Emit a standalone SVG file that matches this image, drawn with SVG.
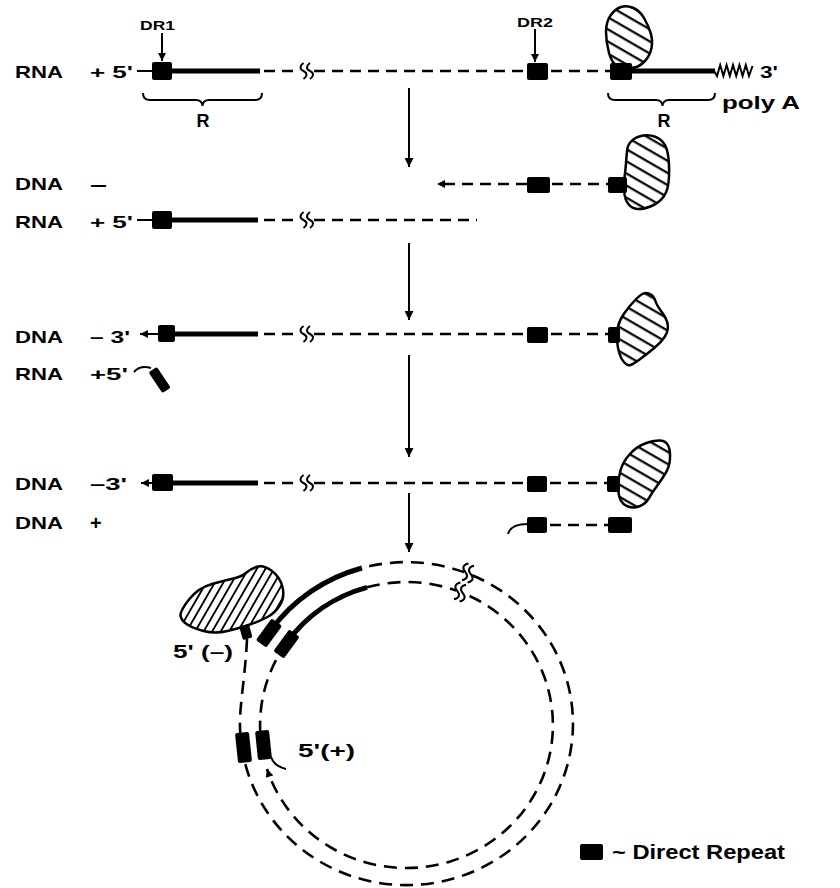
<svg xmlns="http://www.w3.org/2000/svg" xmlns:xlink="http://www.w3.org/1999/xlink" width="840" height="888" viewBox="0 0 840 888">
<style>
.thick{stroke:#000;stroke-width:5;fill:none}
.dash{stroke:#000;stroke-width:2.5;stroke-dasharray:11 7;fill:none}
.cdash{stroke:#000;stroke-width:2.6;stroke-dasharray:13 8;fill:none}
.thin{stroke:#000;stroke-width:2;fill:none}
.box{fill:#000}
.blob{stroke:#000;stroke-width:2.5}
.brk{stroke:#000;stroke-width:2;fill:none}
.lbl{font-family:"Liberation Sans",Arial,sans-serif;font-weight:bold;font-size:17px;fill:#000}
</style>
<defs>
<pattern id="h1" patternUnits="userSpaceOnUse" width="10" height="10.5" patternTransform="rotate(30)"><rect width="10" height="10.5" fill="#fff"/><line x1="0" y1="5" x2="10" y2="5" stroke="#000" stroke-width="2.2"/></pattern>
<pattern id="h2" patternUnits="userSpaceOnUse" width="10" height="7.4" patternTransform="rotate(-60)"><rect width="10" height="7.4" fill="#fff"/><line x1="0" y1="3.7" x2="10" y2="3.7" stroke="#000" stroke-width="1.8"/></pattern>
<marker id="ah" viewBox="0 0 10 10" refX="10" refY="5" markerWidth="10" markerHeight="9" orient="auto" markerUnits="userSpaceOnUse"><path d="M0,0 L10,5 L0,10 z" fill="#000"/></marker>
<marker id="ahs" viewBox="0 0 10 10" refX="10" refY="5" markerWidth="9" markerHeight="8" orient="auto" markerUnits="userSpaceOnUse"><path d="M0,0 L10,5 L0,10 z" fill="#000"/></marker>
<path id="sq" d="M0,-8 C-4,-5 -4,-2 0,0 C4,2 4,5 0,8"/>
<path id="sqc" d="M0,-9 C-4.5,-6 -4.5,-2.5 0,0 C4.5,2.5 4.5,6 0,9"/>
</defs>

<g id="connectors">
<line class="thin" x1="409" y1="88" x2="409" y2="167" marker-end="url(#ah)"/>
<line class="thin" x1="409" y1="243" x2="409" y2="320" marker-end="url(#ah)"/>
<line class="thin" x1="409" y1="355" x2="409" y2="457" marker-end="url(#ah)"/>
<line class="thin" x1="409" y1="493" x2="409" y2="552" marker-end="url(#ah)"/>
</g>

<g id="stage1">
<text class="lbl" x="15" y="78" textLength="48" lengthAdjust="spacingAndGlyphs">RNA</text>
<text class="lbl" x="90" y="78" textLength="43" lengthAdjust="spacingAndGlyphs">+ 5'</text>
<text class="lbl" x="140" y="30" style="font-size:13px" textLength="35" lengthAdjust="spacingAndGlyphs">DR1</text>
<text class="lbl" x="517" y="27" style="font-size:13px" textLength="36" lengthAdjust="spacingAndGlyphs">DR2</text>
<line class="thin" x1="162" y1="33" x2="162" y2="61" marker-end="url(#ahs)"/>
<line class="thin" x1="535" y1="29" x2="535" y2="62" marker-end="url(#ahs)"/>
<line class="thin" x1="137" y1="71" x2="153" y2="71"/>
<rect class="box" x="152" y="62" width="20" height="18" rx="2"/>
<line class="thick" x1="171" y1="71" x2="260" y2="71"/>
<line class="dash" x1="264" y1="71" x2="300" y2="71"/>
<use href="#sq" class="brk" x="303.5" y="71"/>
<use href="#sq" class="brk" x="310" y="71"/>
<line class="dash" x1="314" y1="71" x2="527" y2="71"/>
<rect class="box" x="527" y="63" width="21" height="17" rx="2"/>
<line class="dash" x1="551" y1="71" x2="610" y2="71"/>
<path class="blob" fill="url(#h1)" d="M609,53 Q606,42 606,32 Q606,22 610.5,15.5 Q615,9 621,7 Q627,5 633.5,8 Q640,11 644,18 Q648,25 650.5,32.5 Q653,40 651.5,48 Q650,56 644,62 Q638,68 631,68 Q624,68 618,66 Q612,64 609,53 Z"/>
<rect class="box" x="610" y="63" width="22" height="17" rx="2"/>
<line class="thick" x1="631" y1="71" x2="715" y2="71"/>
<polyline class="thin" points="714,71 717,76 720.2,65 723.4,76 726.6,65 729.8,76 733,65 736.2,76 739.4,65 742.6,76 745.8,65 749,76 752.5,66"/>
<text class="lbl" x="760" y="78" textLength="18" lengthAdjust="spacingAndGlyphs">3'</text>
<path class="thin" d="M143,93 Q143,100 150,100 L196,100 Q202,100 202.5,106 Q203,100 209,100 L255,100 Q262,100 262,93"/>
<text class="lbl" x="203" y="127" text-anchor="middle" style="font-size:18px">R</text>
<path class="thin" d="M608,93 Q608,100 615,100 L656,100 Q662,100 662.5,106 Q663,100 669,100 L708,100 Q715,100 715,93"/>
<text class="lbl" x="664" y="127" text-anchor="middle" style="font-size:18px">R</text>
<text class="lbl" x="722" y="109" style="font-size:18px" textLength="78" lengthAdjust="spacingAndGlyphs">poly A</text>
</g>

<g id="stage2">
<text class="lbl" x="15" y="190" textLength="48" lengthAdjust="spacingAndGlyphs">DNA</text>
<text class="lbl" x="90" y="191" style="font-size:20px" textLength="17" lengthAdjust="spacingAndGlyphs">–</text>
<line class="dash" x1="527" y1="184" x2="437" y2="184" marker-end="url(#ahs)"/>
<rect class="box" x="527" y="177" width="23" height="16" rx="2"/>
<line class="dash" x1="552" y1="184" x2="608" y2="184"/>
<path class="blob" fill="url(#h1)" d="M634,139 Q640,135 647.5,135.25 Q655,135.5 660.5,139.75 Q666,144 667.75,153.5 Q669.5,163 669,176.5 Q668.5,190 663.75,196.5 Q659,203 651,206.25 Q643,209.5 637.5,209 Q632,208.5 628.5,204.25 Q625,200 624.25,192.5 Q623.5,185 624.5,177.5 Q625.5,170 626,163 Q626.5,156 627.25,149.5 Q628,143 634,139 Z"/>
<rect class="box" x="608" y="177" width="19" height="16" rx="2"/>
<text class="lbl" x="15" y="228" textLength="48" lengthAdjust="spacingAndGlyphs">RNA</text>
<text class="lbl" x="90" y="228" textLength="43" lengthAdjust="spacingAndGlyphs">+ 5'</text>
<line class="thin" x1="137" y1="220" x2="153" y2="220"/>
<rect class="box" x="152" y="211" width="20" height="18" rx="2"/>
<line class="thick" x1="171" y1="220" x2="258" y2="220"/>
<line class="dash" x1="264" y1="220" x2="300" y2="220"/>
<use href="#sq" class="brk" x="303.5" y="220"/>
<use href="#sq" class="brk" x="310" y="220"/>
<line class="dash" x1="314" y1="220" x2="477" y2="220"/>
</g>

<g id="stage3">
<text class="lbl" x="15" y="343" textLength="48" lengthAdjust="spacingAndGlyphs">DNA</text>
<text class="lbl" x="90" y="343" textLength="40" lengthAdjust="spacingAndGlyphs">– 3'</text>
<line class="thin" x1="159" y1="334" x2="140" y2="334" marker-end="url(#ahs)"/>
<rect class="box" x="158" y="325" width="17" height="17" rx="2"/>
<line class="thick" x1="174" y1="334" x2="258" y2="334"/>
<line class="dash" x1="264" y1="334" x2="300" y2="334"/>
<use href="#sq" class="brk" x="303.5" y="334"/>
<use href="#sq" class="brk" x="310" y="334"/>
<line class="dash" x1="314" y1="334" x2="527" y2="334"/>
<rect class="box" x="527" y="327" width="21" height="16" rx="2"/>
<line class="dash" x1="551" y1="334" x2="610" y2="334"/>
<path class="blob" fill="url(#h1)" d="M650,294 Q654,296 655.25,300.5 Q656.5,305 661.75,312 Q667,319 667.75,325 Q668.5,331 664.75,336.75 Q661,342.5 654,348.25 Q647,354 640.25,359 Q633.5,364 630.5,365 Q627.5,366 624.25,362.5 Q621,359 619.25,353 Q617.5,347 617,340 Q616.5,333 618,326.5 Q619.5,320 624.5,313 Q629.5,306 634.5,300.75 Q639.5,295.5 642.75,293.75 Q646,292 650,294 Z"/>
<rect class="box" x="608" y="327" width="12" height="16" rx="2"/>
<text class="lbl" x="15" y="380" textLength="48" lengthAdjust="spacingAndGlyphs">RNA</text>
<text class="lbl" x="90" y="380" textLength="38" lengthAdjust="spacingAndGlyphs">+5'</text>
<path class="thin" d="M134,372 Q140,365 151,368"/>
<rect class="box" x="-12.5" y="-5" width="25" height="10" rx="2" transform="translate(159.6,380) rotate(56)"/>
</g>

<g id="stage4">
<text class="lbl" x="15" y="490" textLength="48" lengthAdjust="spacingAndGlyphs">DNA</text>
<text class="lbl" x="90" y="490" textLength="37" lengthAdjust="spacingAndGlyphs">–3'</text>
<line class="thin" x1="153" y1="483" x2="141" y2="483" marker-end="url(#ahs)"/>
<rect class="box" x="152" y="474" width="21" height="17" rx="2"/>
<line class="thick" x1="172" y1="483" x2="258" y2="483"/>
<line class="dash" x1="264" y1="483" x2="300" y2="483"/>
<use href="#sq" class="brk" x="303.5" y="483"/>
<use href="#sq" class="brk" x="310" y="483"/>
<line class="dash" x1="314" y1="483" x2="527" y2="483"/>
<rect class="box" x="527" y="476" width="20" height="16" rx="2"/>
<line class="dash" x1="550" y1="483" x2="608" y2="483"/>
<path class="blob" fill="url(#h1)" d="M629.5,454.5 Q636,447 644.5,443.75 Q653,440.5 659.25,440.5 Q665.5,440.5 668,445.25 Q670.5,450 670,458.5 Q669.5,467 665.25,473.75 Q661,480.5 656.75,486.25 Q652.5,492 649,498 Q645.5,504 639.5,506.25 Q633.5,508.5 628,506.5 Q622.5,504.5 620.25,499.25 Q618,494 618.25,485.5 Q618.5,477 620.75,469.5 Q623,462 629.5,454.5 Z"/>
<rect class="box" x="607" y="476" width="13" height="16" rx="2"/>
<text class="lbl" x="15" y="529" textLength="48" lengthAdjust="spacingAndGlyphs">DNA</text>
<text class="lbl" x="90" y="530" style="font-size:20px">+</text>
<path class="thin" d="M508,534 C510,527 517,524 528,524"/>
<rect class="box" x="527" y="517" width="20" height="16" rx="2"/>
<line class="dash" x1="550" y1="525" x2="608" y2="525"/>
<rect class="box" x="608" y="517" width="24" height="16" rx="2"/>
</g>

<g id="circle">
<path class="cdash" d="M247,639 C246,665 242,690 240.4,712 A166.5,161.5 0 1 0 362,568"/>
<path class="thick" d="M362,568 A166.5,161.5 0 0 0 271,630"/>
<path class="cdash" d="M367,587.3 A146.5,143 0 1 1 267,769" marker-end="url(#ahs)"/>
<path class="cdash" d="M287,642.3 A146.5,143 0 0 0 261.5,745"/>
<path class="thick" d="M367,587.3 A146.5,143 0 0 0 287,642.3"/>
<g transform="translate(468,573) rotate(21)">
<rect x="-4" y="-3.5" width="8" height="7" fill="#fff"/>
<use href="#sqc" class="brk" x="-3"/>
<use href="#sqc" class="brk" x="3"/>
</g>
<g transform="translate(460,592) rotate(21)">
<rect x="-4" y="-3.5" width="8" height="7" fill="#fff"/>
<use href="#sqc" class="brk" x="-3"/>
<use href="#sqc" class="brk" x="3"/>
</g>
<rect class="box" x="-13.5" y="-6.5" width="27" height="13" rx="2" transform="translate(269,633) rotate(-54)"/>
<rect class="box" x="-13.5" y="-6.5" width="27" height="13" rx="2" transform="translate(286.5,644) rotate(-54)"/>
<rect class="box" x="-7" y="-15" width="14" height="30" rx="2" transform="translate(243.5,747.5) rotate(-6)"/>
<rect class="box" x="-7" y="-14.5" width="14" height="29" rx="2" transform="translate(263.5,745) rotate(-6)"/>
<path class="thin" d="M271,757 Q274,766 286,769"/>
<path class="blob" fill="url(#h2)" d="M189,599.5 Q198,588 212,584 Q226,580 233.5,578.5 Q241,577 246.5,572.5 Q252,568 258,566.5 Q264,565 272,571 Q280,577 282.5,587 Q285,597 280,605 Q275,613 267.5,617 Q260,621 250,624.5 Q240,628 227.5,631 Q215,634 203.5,631 Q192,628 186.5,624 Q181,620 180.5,615.5 Q180,611 189,599.5 Z"/>
<rect class="box" x="-5" y="-6.5" width="10" height="13" rx="1.5" transform="translate(246,632.5) rotate(-15)"/>
<text class="lbl" x="173" y="658" style="font-size:18px" textLength="60" lengthAdjust="spacingAndGlyphs">5' (–)</text>
<text class="lbl" x="298" y="757" style="font-size:19px" textLength="57" lengthAdjust="spacingAndGlyphs">5'(+)</text>
</g>

<g id="legend">
<rect class="box" x="580" y="844" width="23" height="16" rx="2"/>
<text class="lbl" x="612" y="859" style="font-size:20px" textLength="173" lengthAdjust="spacingAndGlyphs">~ Direct Repeat</text>
</g>
</svg>
